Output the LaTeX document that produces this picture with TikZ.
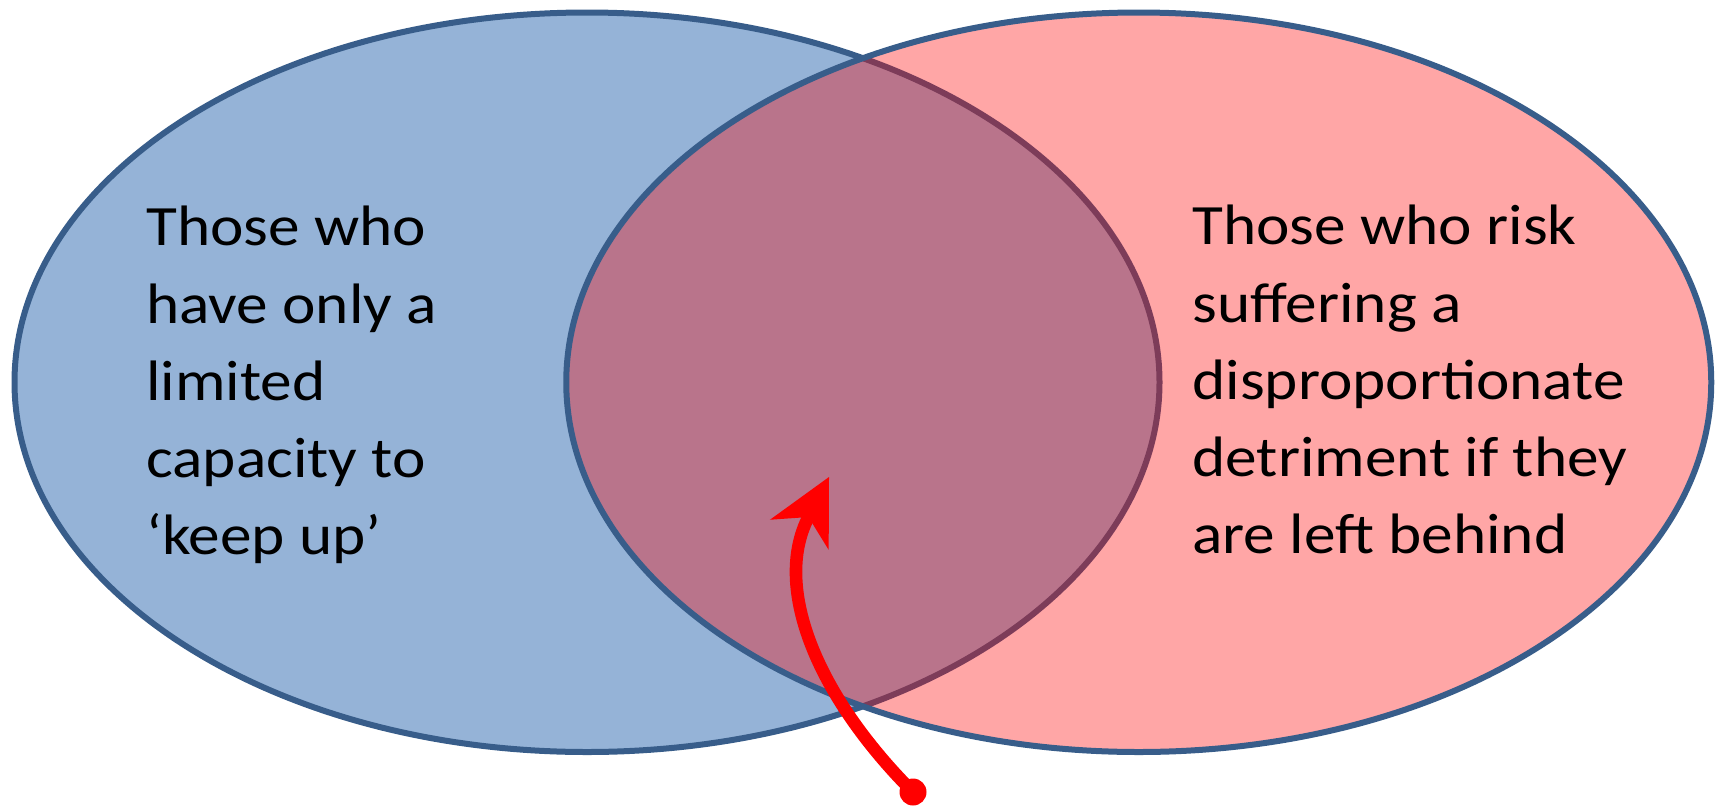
\documentclass[tikz,border=0pt]{standalone}
\usepackage{fontspec}
\setmainfont{Carlito}[FakeStretch=1.11]
\usetikzlibrary{arrows.meta,shapes.geometric}
\definecolor{leftfill}{HTML}{95B3D7}
\definecolor{vennline}{HTML}{385D8A}
\definecolor{arrowred}{HTML}{FF0000}
\begin{document}
\begin{tikzpicture}[x=0.5pt,y=-0.5pt,
  venn/.style={ellipse, draw=vennline, line width=3pt, inner sep=0pt,
    minimum width=572.5pt, minimum height=369.75pt},
  setlabel/.style={anchor=north west, inner sep=0pt, align=left, text=black,
    font=\fontsize{28.5}{38.6}\selectfont},
  pointer/.style={draw=arrowred, line width=6.3pt,
    -{Stealth[length=32.5pt,width=33pt,inset=10pt,line width=0pt]}},
  dotstyle/.style={circle, fill=arrowred, minimum size=13.5pt, inner sep=0pt}]
\useasboundingbox (0,0) rectangle (1718,809);
\node[venn, fill=leftfill] (leftset) at (587,382.25) {};
\node[venn, fill=red, fill opacity=0.35] (rightset) at (1138.75,382.25) {};
\node[setlabel] (lefttext) at (146,206) {Those who\\have only a\\limited\\capacity to\\‘keep up’};
\node[setlabel] (righttext) at (1192,205) {Those who risk\\suffering a\\disproportionate\\detriment if they\\are left behind};
\node[dotstyle] (dot) at (913,792) {};
\coordinate (tip) at (829,477);
\draw[pointer] (dot.center) .. controls (818,697) and (772,588) .. (tip);
\end{tikzpicture}
\end{document}
